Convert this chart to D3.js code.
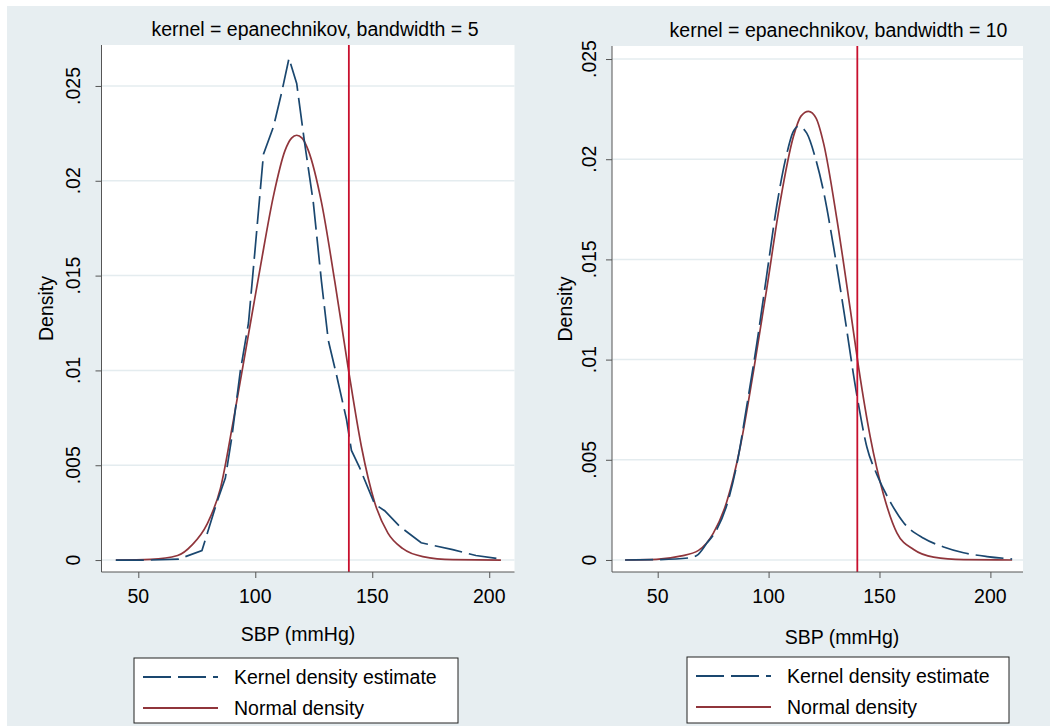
<!DOCTYPE html>
<html>
<head>
<meta charset="utf-8">
<script src="https://cdn.jsdelivr.net/npm/d3@7"></script>
<style>
  body { margin: 0; background: #fff; }
  svg { display: block; font-family: "Liberation Sans", Arial, sans-serif; }
</style>
</head>
<body>
<svg id="chart" width="1050" height="726"></svg>
<script>
// values
const sbpTicks = [50, 100, 150, 200];
const densityTicks = [0, 0.005, 0.01, 0.015, 0.02, 0.025];
const cutoff = 140;

const kdeBw5 = [
  [40.4, 0], [55, 0], [67.3, 0.00005], [77.2, 0.0005], [83.6, 0.00305], [87.2, 0.00432],
  [90, 0.0065], [93.6, 0.00996], [97.1, 0.0125], [100, 0.0165], [103.5, 0.0214],
  [107.8, 0.02286], [111.3, 0.02467], [114.4, 0.02645], [117.7, 0.02513], [121.2, 0.0219],
  [124.8, 0.01886], [128.3, 0.01468], [131.2, 0.01159], [134.7, 0.00977], [139, 0.00741],
  [141.1, 0.00578], [144.6, 0.00487], [151, 0.00296], [155.3, 0.0026], [161.7, 0.00178],
  [170.9, 0.00091], [184.4, 0.00055], [194.3, 0.00024], [205, 0.00005]
];
const normalBw5 = [
  [40.4, 0], [55.4, 0.00004], [66.8, 0.00024], [73, 0.0008], [79.4, 0.0019], [85.1, 0.00378],
  [90.7, 0.00741], [96.4, 0.01141], [102.1, 0.01541], [107.8, 0.01922], [112.7, 0.02159],
  [115.5, 0.02225], [117.7, 0.0224], [120, 0.02225], [122.7, 0.02159], [128.3, 0.01886],
  [134, 0.01468], [139.7, 0.01014], [145.4, 0.00596], [151, 0.00305], [156.7, 0.00142],
  [163.1, 0.0006], [171.6, 0.00018], [184.4, 0.00002], [205, 0]
];
const kdeBw10 = [
  [35.3, 0], [51, 0.00002], [63.8, 0.0001], [67.6, 0.00022], [72.1, 0.00083], [76.6, 0.00151],
  [81.1, 0.00272], [85.7, 0.00478], [90.2, 0.00771], [94.7, 0.01081], [99.2, 0.01425],
  [103.7, 0.01769], [108.2, 0.02027], [111, 0.02135], [113.5, 0.02164], [117.2, 0.0213],
  [121, 0.0201], [124.8, 0.01838], [129.3, 0.01562], [133.8, 0.01252], [139.8, 0.00822],
  [144.3, 0.00564], [148.8, 0.00427], [154.9, 0.00289], [160.9, 0.00186], [169.9, 0.00108],
  [178.9, 0.00065], [187.9, 0.00036], [198.5, 0.00017], [209.8, 0.00005]
];
const normalBw10 = [
  [35.3, 0], [49.5, 0.00003], [60.1, 0.00019], [68.4, 0.00048], [75.1, 0.00134], [81.1, 0.00289],
  [87.2, 0.00564], [93.2, 0.00943], [99.2, 0.01356], [105.2, 0.01786], [111.2, 0.02113],
  [114.6, 0.02215], [118, 0.02239], [121.4, 0.02205], [124.8, 0.02079], [130.8, 0.017],
  [136.8, 0.01253], [140.6, 0.0096], [145.8, 0.00616], [151.9, 0.00323], [157.9, 0.00134],
  [165.4, 0.00052], [174.4, 0.00014], [188, 0.00002], [209.8, 0]
];
const legendLabels = ["Kernel density estimate", "Normal density"];

const colors = { kde: "#1a476f", normal: "#90353b", cutoff: "#c8102e", bg: "#e7eef1", grid: "#e4ecef" };
const fontSize = 19.5;

const panels = [
  {
    title: "kernel = epanechnikov, bandwidth = 5", titleX: 315, titleY: 35.5,
    kde: kdeBw5, normal: normalBw5, kdeCurve: d3.curveLinear,
    left: 101.5, right: 514.5, top: 45, bottom: 572,
    xDomain: [34.27, 210.8], yDomain: [-0.00063, 0.02716],
    yLabX: 80, densX: 53, sbpX: 298, sbpY: 641,
    legend: { x: 134, y: 658, w: 324, h: 65 }
  },
  {
    title: "kernel = epanechnikov, bandwidth = 10", titleX: 838.5, titleY: 37,
    kde: kdeBw10, normal: normalBw10, kdeCurve: d3.curveMonotoneX,
    left: 612, right: 1023, top: 46, bottom: 572,
    xDomain: [29.4, 214.7], yDomain: [-0.0006, 0.02565],
    yLabX: 595.5, densX: 572, sbpX: 842, sbpY: 644,
    legend: { x: 687, y: 657, w: 322, h: 66 }
  }
];

const svg = d3.select("#chart");

svg.append("rect")
  .attr("x", 7).attr("y", 6)
  .attr("width", 1043).attr("height", 720)
  .attr("fill", colors.bg);

panels.forEach(p => drawPanel(svg.append("g"), p));

function fmt(d) {
  return d === 0 ? "0" : String(+d.toFixed(3)).replace(/^0/, "");
}

function drawPanel(g, p) {
  const x = d3.scaleLinear().domain(p.xDomain).range([p.left, p.right]);
  const y = d3.scaleLinear().domain(p.yDomain).range([p.bottom, p.top]);

  g.append("rect")
    .attr("x", p.left).attr("y", p.top)
    .attr("width", p.right - p.left).attr("height", p.bottom - p.top)
    .attr("fill", "#fff");

  // grid
  g.selectAll("line.grid")
    .data(densityTicks)
    .join("line")
    .attr("class", "grid")
    .attr("x1", p.left).attr("x2", p.right)
    .attr("y1", d => y(d)).attr("y2", d => y(d))
    .attr("stroke", colors.grid).attr("stroke-width", 1.5);

  const line = d3.line().x(d => x(d[0])).y(d => y(d[1]));

  g.append("path")
    .attr("d", line.curve(d3.curveMonotoneX)(p.normal))
    .attr("fill", "none")
    .attr("stroke", colors.normal)
    .attr("stroke-width", 1.7);

  g.append("path")
    .attr("d", line.curve(p.kdeCurve)(p.kde))
    .attr("fill", "none")
    .attr("stroke", colors.kde)
    .attr("stroke-width", 1.7)
    .attr("stroke-dasharray", "28,7");

  g.append("line")
    .attr("x1", x(cutoff)).attr("x2", x(cutoff))
    .attr("y1", p.top).attr("y2", p.bottom)
    .attr("stroke", colors.cutoff).attr("stroke-width", 1.8);

  // y axis
  const yAxis = g.append("g")
    .attr("transform", `translate(${p.left},0)`)
    .call(d3.axisLeft(y).tickValues(densityTicks).tickSize(6).tickFormat(""));
  yAxis.select(".domain").attr("d", `M0,${p.top}V${p.bottom}`).attr("stroke", "#555");
  yAxis.selectAll(".tick line").attr("stroke", "#555");

  g.selectAll("text.ytick")
    .data(densityTicks)
    .join("text")
    .attr("class", "ytick")
    .attr("transform", d => `translate(${p.yLabX},${y(d)}) rotate(-90)`)
    .attr("text-anchor", "middle")
    .attr("font-size", fontSize)
    .text(fmt);

  // x axis
  const xAxis = g.append("g")
    .attr("transform", `translate(0,${p.bottom})`)
    .call(d3.axisBottom(x).tickValues(sbpTicks).tickSize(6).tickFormat(""));
  xAxis.select(".domain").attr("d", `M${p.left},0H${p.right}`).attr("stroke", "#555");
  xAxis.selectAll(".tick line").attr("stroke", "#555");

  g.selectAll("text.xtick")
    .data(sbpTicks)
    .join("text")
    .attr("class", "xtick")
    .attr("x", d => x(d))
    .attr("y", p.bottom + 31)
    .attr("text-anchor", "middle")
    .attr("font-size", fontSize)
    .text(d => d);

  g.append("text")
    .attr("x", p.titleX).attr("y", p.titleY)
    .attr("text-anchor", "middle")
    .attr("font-size", fontSize)
    .text(p.title);

  g.append("text")
    .attr("transform", `translate(${p.densX},${(p.top + p.bottom) / 2}) rotate(-90)`)
    .attr("text-anchor", "middle")
    .attr("font-size", fontSize)
    .text("Density");

  g.append("text")
    .attr("x", p.sbpX).attr("y", p.sbpY)
    .attr("text-anchor", "middle")
    .attr("font-size", fontSize)
    .text("SBP (mmHg)");

  // legend
  const L = p.legend;
  const lg = g.append("g").attr("transform", `translate(${L.x},${L.y})`);
  lg.append("rect")
    .attr("width", L.w).attr("height", L.h)
    .attr("fill", "#fff").attr("stroke", "#222").attr("stroke-width", 1);

  const keys = [
    { label: legendLabels[0], color: colors.kde, dash: "28,7" },
    { label: legendLabels[1], color: colors.normal, dash: null }
  ];
  lg.selectAll("line.key")
    .data(keys)
    .join("line")
    .attr("class", "key")
    .attr("x1", 9).attr("x2", 84)
    .attr("y1", (d, i) => 19 + i * 31).attr("y2", (d, i) => 19 + i * 31)
    .attr("stroke", d => d.color).attr("stroke-width", 1.8)
    .attr("stroke-dasharray", d => d.dash);
  lg.selectAll("text.key")
    .data(keys)
    .join("text")
    .attr("class", "key")
    .attr("x", 100)
    .attr("y", (d, i) => 26 + i * 31)
    .attr("font-size", fontSize)
    .text(d => d.label);
}
</script>
</body>
</html>
